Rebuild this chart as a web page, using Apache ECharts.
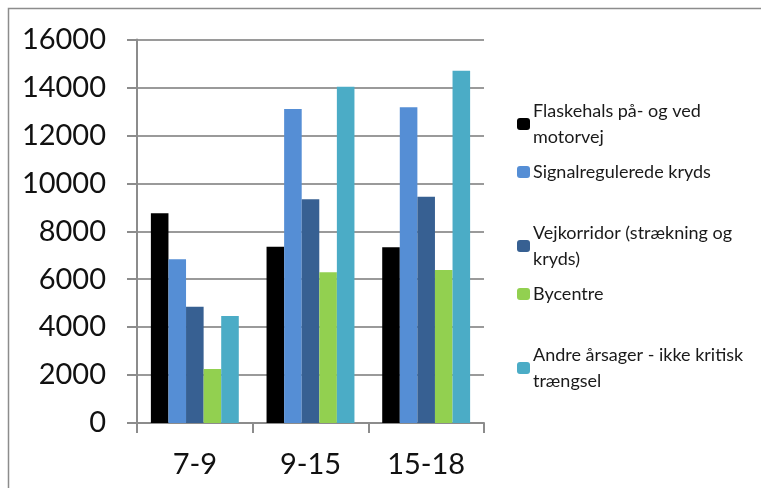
<!DOCTYPE html>
<html>
<head>
<meta charset="utf-8">
<script src="https://cdn.jsdelivr.net/npm/echarts@6/dist/echarts.min.js"></script>
<style>
  html, body { margin: 0; padding: 0; background: #fff; }
  #main { width: 761px; height: 488px; }
</style>
</head>
<body>
<div id="main"></div>
<script>
// tidsrum
var categories = ['7-9', '9-15', '15-18'];
var seriesNames = [
  'Flaskehals på- og ved\nmotorvej',
  'Signalregulerede kryds',
  'Vejkorridor (strækning og\nkryds)',
  'Bycentre',
  'Andre årsager - ikke kritisk\ntrængsel'
];
var flaskehals = [8750, 7350, 7330];
var signal = [6830, 13100, 13170];
var vejkorridor = [4850, 9330, 9440];
var bycentre = [2250, 6290, 6380];
var andre = [4460, 14030, 14700];
var colors = ['#000000', '#558ed5', '#376092', '#92d050', '#4bacc6'];

var values = [flaskehals, signal, vejkorridor, bycentre, andre];
var legendTops = [119, 180, 241, 302, 363];

var myChart = echarts.init(document.getElementById('main'));

var legends = seriesNames.map(function (name, i) {
  return {
    orient: 'vertical',
    left: 512,
    top: legendTops[i] - 39,
    itemWidth: 13,
    itemHeight: 12,
    itemGap: 0,
    itemStyle: { borderWidth: 0 },
    textStyle: {
      fontFamily: 'Lato',
      fontSize: 18,
      color: '#1a1a1a',
      lineHeight: 26,
      padding: [26, 0, 0, -2]
    },
    data: [name]
  };
});

myChart.setOption({
  animation: false,
  color: colors,
  graphic: [{
    type: 'rect',
    shape: { x: 8.5, y: 8.5, width: 800, height: 500 },
    style: { fill: 'none', stroke: '#8c8c8c', lineWidth: 1.5 },
    silent: true
  }],
  legend: legends,
  grid: { left: 137, right: 277, top: 39.5, bottom: 65 },
  xAxis: {
    type: 'category',
    data: categories,
    axisLine: { lineStyle: { color: '#8c8c8c', width: 2 } },
    axisTick: { show: true, length: 10, lineStyle: { color: '#8c8c8c', width: 2 } },
    axisLabel: { fontFamily: 'Lato', fontSize: 29, color: '#111', margin: 27 }
  },
  yAxis: {
    type: 'value',
    min: 0,
    max: 16000,
    interval: 2000,
    axisLine: { show: true, lineStyle: { color: '#8c8c8c', width: 2 } },
    axisTick: { show: true, length: 10, lineStyle: { color: '#8c8c8c', width: 2 } },
    splitLine: { lineStyle: { color: '#9a9a9a', width: 2 } },
    axisLabel: {
      fontFamily: 'Lato', fontSize: 29, color: '#111', margin: 31,
      formatter: function (v) { return String(v); }
    }
  },
  series: seriesNames.map(function (name, i) {
    return {
      name: name,
      type: 'bar',
      data: values[i],
      barGap: '0%',
      barCategoryGap: '24%'
    };
  })
});
</script>
</body>
</html>
